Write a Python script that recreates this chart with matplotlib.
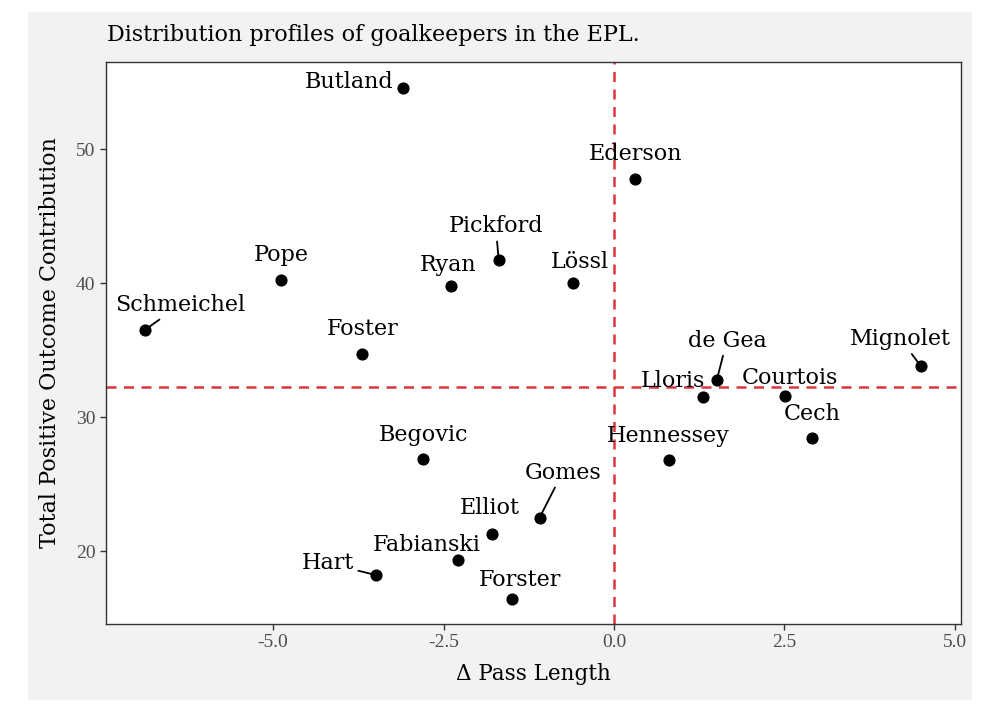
import matplotlib
matplotlib.use("Agg")
import matplotlib.pyplot as plt
from matplotlib.patches import Rectangle

# Goalkeeper data
names = ["Butland", "Ederson", "Pickford", "Pope", "Ryan", "Lössl", "Schmeichel",
         "Foster", "de Gea", "Mignolet", "Lloris", "Courtois", "Cech", "Hennessey",
         "Begovic", "Gomes", "Elliot", "Fabianski", "Hart", "Forster"]
pass_delta = [-3.09, 0.31, -1.69, -4.88, -2.39, -0.60, -6.88,
              -3.69, 1.51, 4.50, 1.30, 2.51, 2.90, 0.81,
              -2.80, -1.09, -1.79, -2.29, -3.49, -1.50]
outcome = [54.6, 47.8, 41.7, 40.2, 39.8, 40.0, 36.5,
           34.7, 32.8, 33.8, 31.5, 31.6, 28.4, 26.8,
           26.9, 22.5, 21.3, 19.3, 18.2, 16.4]
mean_outcome = 32.25

# label offsets in pixels (dx, dy) from point, and whether a segment is drawn
label_dx = [-54, 0, -3, 0, -3, 7, 35, 0, 10, -20, -30, 5, 1, -1, 1, 23, -2, -31, -48, 8]
label_dy = [6, 25, 34, 25, 21, 21, 25, 25, 39, 27, 16, 18, 24, 24, 24, 45, 26, 15, 12, 19]
has_segment = ["Pickford", "Schmeichel", "de Gea", "Mignolet", "Gomes", "Hart"]

SERIF = "DejaVu Serif"
BG = "#f2f2f2"
RED = "#d9363e"

fig = plt.figure(figsize=(10, 7.19), dpi=100)
fig.patch.set_facecolor("white")
fig.patches.append(Rectangle((0.028, 1 - 700 / 719), 0.944, 688 / 719,
                             transform=fig.transFigure, facecolor=BG,
                             edgecolor="none", zorder=-1))

ax = fig.add_axes([0.106, 0.1321, 0.855, 0.7816])
ax.set_zorder(1)
ax.set_facecolor("white")
ax.set_xlim(-7.45, 5.09)
ax.set_ylim(14.55, 56.5)

ax.axhline(mean_outcome, color=RED, linestyle=(0, (4, 3)), linewidth=1.8, zorder=1)
ax.axvline(0, color=RED, linestyle=(0, (4, 3)), linewidth=1.8, zorder=1)

ax.scatter(pass_delta, outcome, s=60, color="black", zorder=3)

for i, name in enumerate(names):
    arrow = None
    if name in has_segment:
        arrow = dict(arrowstyle="-", color="black", lw=1.3, shrinkA=1, shrinkB=1)
    ax.annotate(name, xy=(pass_delta[i], outcome[i]),
                xytext=(label_dx[i], label_dy[i]), textcoords="offset pixels",
                ha="center", va="center", fontsize=16, family=SERIF,
                color="black", arrowprops=arrow, zorder=4)

ax.set_xticks([-5.0, -2.5, 0.0, 2.5, 5.0])
ax.set_xticklabels(["-5.0", "-2.5", "0.0", "2.5", "5.0"])
ax.set_yticks([20, 30, 40, 50])
ax.tick_params(colors="#333333", labelcolor="#4d4d4d", length=4, width=1, labelsize=14)
for lab in ax.get_xticklabels() + ax.get_yticklabels():
    lab.set_family("Liberation Serif")
for sp in ax.spines.values():
    sp.set_color("#333333")
    sp.set_linewidth(1)

ax.set_xlabel("\u0394 Pass Length", family=SERIF, fontsize=15.5, labelpad=8)
ax.set_ylabel("Total Positive Outcome Contribution", family=SERIF, fontsize=16, labelpad=11)
fig.text(0.107, 1 - 35 / 719, "Distribution profiles of goalkeepers in the EPL.",
         family=SERIF, fontsize=16, ha="left", va="center")

plt.savefig("out.png", dpi=100, facecolor=fig.get_facecolor())
